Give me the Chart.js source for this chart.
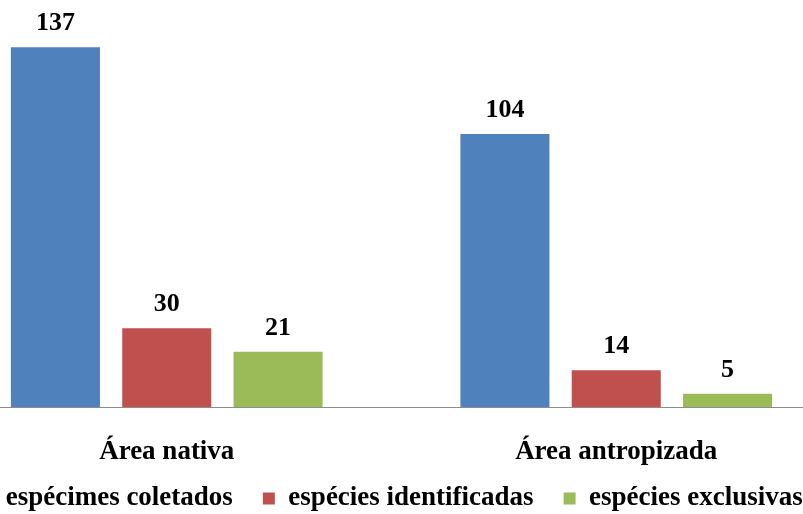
<!DOCTYPE html>
<html>
<head>
<meta charset="utf-8">
<script src="https://cdn.jsdelivr.net/npm/chart.js@4"></script>
<style>
  html, body { margin: 0; padding: 0; background: #fff; overflow: hidden; }
  #wrap { position: absolute; left: -58px; top: 0; width: 899px; height: 514px; }
</style>
</head>
<body>
<div id="wrap"><canvas id="chart"></canvas></div>
<script>
const categories = ['Área nativa', 'Área antropizada'];
const especimesColetados = [137, 104];
const especiesIdentificadas = [30, 14];
const especiesExclusivas = [21, 5];

const serif = "'Liberation Serif', 'Times New Roman', serif";

const valueLabels = {
  id: 'valueLabels',
  afterDatasetsDraw(chart) {
    const ctx = chart.ctx;
    ctx.save();
    ctx.font = 'bold 26px ' + serif;
    ctx.fillStyle = '#000';
    ctx.textAlign = 'center';
    ctx.textBaseline = 'alphabetic';
    chart.data.datasets.forEach((ds, i) => {
      chart.getDatasetMeta(i).data.forEach((bar, j) => {
        ctx.fillText(ds.data[j], bar.x, bar.y - 17);
      });
    });
    ctx.restore();
  }
};

// legend padding doubles as item spacing, so move the legend box up and let it reach the bottom
const liftLegend = {
  id: 'liftLegend',
  afterLayout(chart) {
    const lg = chart.legend;
    lg.top = 455;
    lg.bottom = chart.height;
    lg.height = lg.bottom - lg.top;
  }
};

new Chart(document.getElementById('chart'), {
  type: 'bar',
  data: {
    labels: categories,
    datasets: [
      { label: 'espécimes coletados', data: especimesColetados, backgroundColor: '#4F81BD' },
      { label: 'espécies identificadas', data: especiesIdentificadas, backgroundColor: '#C0504D' },
      { label: 'espécies exclusivas', data: especiesExclusivas, backgroundColor: '#9BBB59' }
    ]
  },
  options: {
    responsive: true,
    maintainAspectRatio: false,
    animation: false,
    layout: { padding: 0 },
    datasets: { bar: { categoryPercentage: 0.743, barPercentage: 0.8 } },
    plugins: {
      tooltip: { enabled: false },
      legend: {
        position: 'bottom',
        maxHeight: 41,
        labels: {
          color: '#000',
          font: { family: serif, size: 27, weight: 'bold' },
          boxWidth: 12,
          boxHeight: 12,
          padding: 30
        }
      }
    },
    scales: {
      x: {
        grid: { display: false },
        border: { display: true, color: '#8c8c8c', width: 1 },
        afterFit: (scale) => { scale.height = 66; },
        ticks: {
          color: '#000',
          padding: 21,
          font: { family: serif, size: 27, weight: 'bold' }
        }
      },
      y: {
        display: false,
        min: 0,
        max: 155
      }
    }
  },
  plugins: [valueLabels, liftLegend]
});
</script>
</body>
</html>
